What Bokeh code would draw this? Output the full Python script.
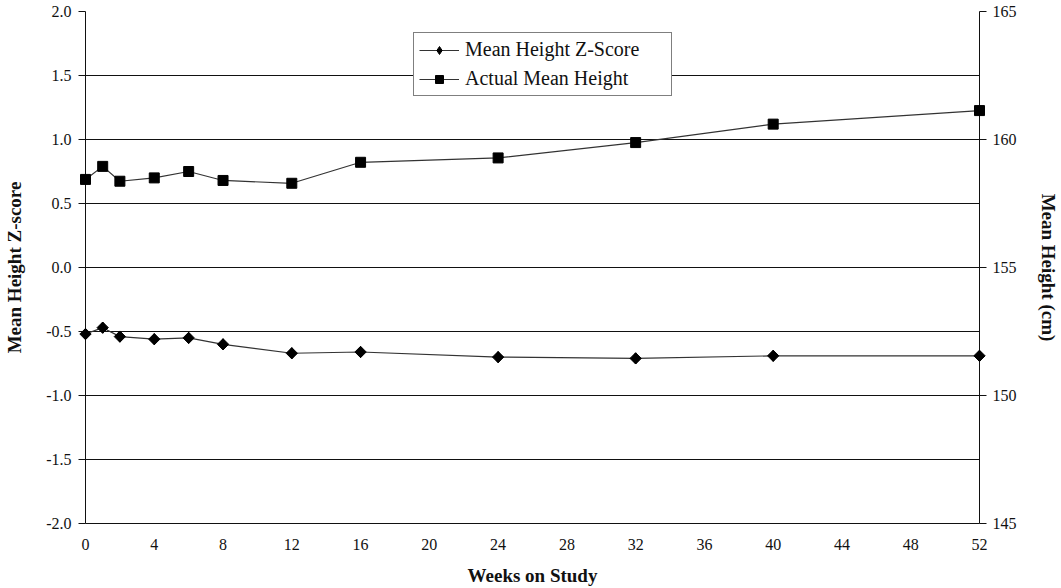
import math

from bokeh.plotting import figure
from bokeh.models import (Range1d, LinearAxis, Legend, LegendItem, FixedTicker,
                          PrintfTickFormatter)
from bokeh.embed import file_html
from bokeh.resources import INLINE

# Study visits (weeks) and the two measured series
weeks = [0, 1, 2, 4, 6, 8, 12, 16, 24, 32, 40, 52]
z_scores = [-0.52, -0.47, -0.54, -0.56, -0.55, -0.60, -0.67, -0.66, -0.70, -0.71, -0.69, -0.69]
heights_cm = [158.44, 158.95, 158.37, 158.50, 158.75, 158.40, 158.29, 159.11, 159.28, 159.88, 160.60, 161.13]

x_ticks = list(range(0, 53, 4))
z_ticks = [-2.0, -1.5, -1.0, -0.5, 0.0, 0.5, 1.0, 1.5, 2.0]
h_ticks = [145, 150, 155, 160, 165]

SERIF = "Liberation Serif"
INK = "#111111"

p = figure(width=1061, height=588, output_backend="svg", toolbar_location=None,
           x_range=Range1d(0, 52), y_range=Range1d(-2, 2),
           min_border_left=85, min_border_right=74, min_border_top=11, min_border_bottom=65,
           background_fill_color="white", border_fill_color="white")
p.outline_line_color = None

p.extra_y_ranges = {"h": Range1d(145, 165)}

# x axis
xa = p.xaxis[0]
xa.ticker = FixedTicker(ticks=x_ticks)
xa.axis_label = "Weeks on Study"
xa.major_tick_out = 0
xa.major_tick_in = 0
xa.minor_tick_out = 0
xa.minor_tick_in = 0
xa.major_label_standoff = 15
xa.axis_label_standoff = 12

# left axis: z-score
ya = p.yaxis[0]
ya.ticker = FixedTicker(ticks=z_ticks)
ya.formatter = PrintfTickFormatter(format="%.1f")
ya.axis_label = "Mean Height Z-score"
ya.major_tick_out = 7
ya.major_tick_in = 0
ya.minor_tick_out = 0
ya.minor_tick_in = 0
ya.major_label_standoff = 7
ya.axis_label_standoff = 18

# right axis: height in cm
ra = LinearAxis(y_range_name="h", ticker=FixedTicker(ticks=h_ticks),
                axis_label="Mean Height (cm)")
ra.major_tick_out = 7
ra.major_tick_in = 0
ra.minor_tick_out = 0
ra.minor_tick_in = 0
ra.major_label_standoff = 6
ra.axis_label_standoff = 18
p.add_layout(ra, "right")

for ax in (xa, ya, ra):
    ax.axis_line_color = INK
    ax.major_tick_line_color = INK
    ax.major_label_text_font = SERIF
    ax.major_label_text_font_size = "16px"
    ax.major_label_text_color = INK
    ax.axis_label_text_font = SERIF
    ax.axis_label_text_font_size = "19px"
    ax.axis_label_text_font_style = "bold"
    ax.axis_label_text_color = INK

p.xgrid.visible = False
p.ygrid.ticker = FixedTicker(ticks=z_ticks)
p.ygrid.grid_line_color = INK
p.ygrid.grid_line_width = 1

# series
z_line = p.line(weeks, z_scores, line_color="#333333", line_width=1.2)
# slim diamonds that sit inside the rotated squares; they provide the legend swatch
z_key = p.scatter(weeks, z_scores, marker="diamond", size=11,
                  fill_color="black", line_color="black", level="overlay")
z_pts = p.scatter(weeks, z_scores, marker="square", angle=math.pi / 4, size=8,
                  fill_color="black", line_color="black", level="overlay")
h_line = p.line(weeks, heights_cm, y_range_name="h", line_color="#333333", line_width=1.2)
h_pts = p.scatter(weeks, heights_cm, y_range_name="h", marker="square", size=10,
                  fill_color="black", line_color="black", level="overlay")

legend = Legend(items=[LegendItem(label="Mean Height Z-Score", renderers=[z_line, z_key]),
                       LegendItem(label="Actual Mean Height", renderers=[h_line, h_pts])],
                location=(328, 427))
legend.border_line_color = "black"
legend.border_line_width = 1
legend.background_fill_color = "white"
legend.background_fill_alpha = 1
legend.label_text_font = SERIF
legend.label_text_font_size = "20px"
legend.label_text_color = INK
legend.glyph_width = 40
legend.glyph_height = 20
legend.label_standoff = 6
legend.label_height = 20
legend.label_width = 201
legend.padding = 5
legend.spacing = 6
legend.margin = 0
p.add_layout(legend)

open("out.html", "w").write(file_html(p, INLINE))
